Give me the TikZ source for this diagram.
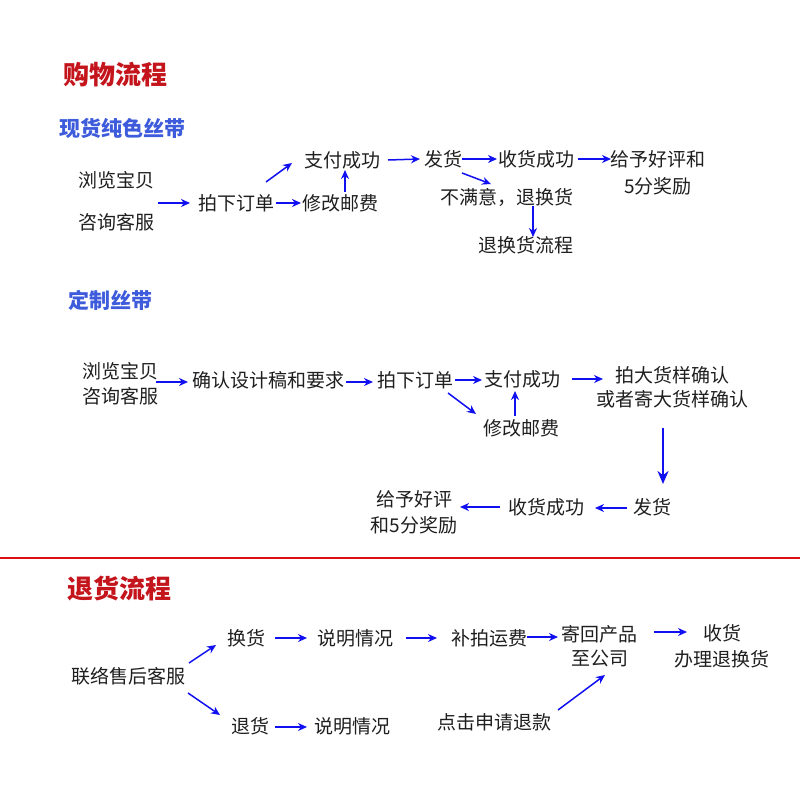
\documentclass[tikz,border=0pt]{standalone}
\usepackage{fontspec}
\setmainfont{Noto Sans CJK SC}
\newfontfamily\cjk{Noto Sans CJK SC}
\usetikzlibrary{calc,arrows.meta}
\definecolor{titlered}{HTML}{C4141C}
\definecolor{titleblue}{HTML}{3D5BDB}
\definecolor{arrowblue}{HTML}{1010F0}
\definecolor{linered}{HTML}{DD1111}
\tikzset{
  txt/.style={inner sep=0pt, font=\cjk\fontsize{19}{24}\selectfont, text=black!88, align=center},
  redtitle/.style={inner sep=0pt, font=\cjk\bfseries\fontsize{26}{30}\selectfont, text=titlered},
  bluetitle/.style={inner sep=0pt, font=\cjk\bfseries\fontsize{21}{26}\selectfont, text=titleblue},
  arr/.style={draw=arrowblue, line width=1.5pt, -{Stealth[length=9pt,width=8pt]}},
  bigarr/.style={draw=arrowblue, line width=2.6pt, -{Stealth[length=13pt,width=11pt]}}
}
\begin{document}
\begin{tikzpicture}[x=1pt,y=-1pt]
\useasboundingbox[fill=white] (0,0) rectangle (800,800);

% titles
\node[redtitle] (t1) at (115,75) {购物流程};
\node[bluetitle] (t2) at (122.5,128) {现货纯色丝带};
\node[bluetitle] (t3) at (110,300) {定制丝带};
\node[redtitle] (t4) at (119,589) {退货流程};

% separator
\draw[linered, line width=2pt] (0,558) -- (800,558);

% ---------- section 1 ----------
\node[txt, font=\cjk\fontsize{19}{42}\selectfont] (s1a) at (116,201) {浏览宝贝\\咨询客服};
\node[txt] (s1b) at (236,203) {拍下订单};
\node[txt] (s1c) at (340,203) {修改邮费};
\node[txt] (s1d) at (342,160) {支付成功};
\node[txt] (s1e) at (443,159) {发货};
\node[txt] (s1f) at (536,159) {收货成功};
\node[txt, font=\cjk\fontsize{19}{27}\selectfont] (s1g) at (658,172.5) {给予好评和\\5分奖励};
\node[txt] (s1h) at (507,197) {不满意，退换货};
\node[txt] (s1i) at (526,245) {退换货流程};

\draw[arr] ($(s1a)+(42,2)$) -- ($(s1b)+(-46,0)$);
\draw[arr] ($(s1b)+(40,0)$) -- ($(s1c)+(-39,0)$);
\draw[arr] ($(s1b)+(30,-21)$) -- ($(s1d)+(-50,3)$);
\draw[arr] ($(s1c)+(5,-11)$) -- ($(s1d)+(3,10)$);
\draw[arr] ($(s1d)+(46,0)$) -- ($(s1e)+(-23,0)$);
\draw[arr] ($(s1e)+(19,0)$) -- ($(s1f)+(-39,0)$);
\draw[arr] ($(s1f)+(42,0)$) -- ($(s1g)+(-47,-13.5)$);
\draw[arr] ($(s1e)+(19,14)$) -- ($(s1h)+(-16,-13)$);
\draw[arr] ($(s1h)+(26,9)$) -- ($(s1i)+(7,-8)$);

% ---------- section 2 ----------
\node[txt, font=\cjk\fontsize{19}{25}\selectfont] (s2a) at (120,383.5) {浏览宝贝\\咨询客服};
\node[txt] (s2b) at (268.5,380) {确认设计稿和要求};
\node[txt] (s2c) at (415,380) {拍下订单};
\node[txt] (s2d) at (522,379) {支付成功};
\node[txt] (s2e) at (521,428) {修改邮费};
\node[txt, font=\cjk\fontsize{19}{24}\selectfont] (s2f) at (672.5,387) {拍大货样确认\\或者寄大货样确认};
\node[txt] (s2g) at (652.5,507) {发货};
\node[txt] (s2h) at (546.5,507) {收货成功};
\node[txt, font=\cjk\fontsize{19}{26}\selectfont] (s2i) at (414,512) {给予好评\\和5分奖励};

\draw[arr] ($(s2a)+(36,-1.5)$) -- ($(s2b)+(-80.5,2)$);
\draw[arr] ($(s2b)+(77,2)$) -- ($(s2c)+(-42,2)$);
\draw[arr] ($(s2c)+(40,0)$) -- ($(s2d)+(-40,1)$);
\draw[arr] ($(s2c)+(33,13)$) -- ($(s2e)+(-45,-14)$);
\draw[arr] ($(s2e)+(-6,-12)$) -- ($(s2d)+(-7,12)$);
\draw[arr] ($(s2d)+(50,0)$) -- ($(s2f)+(-69.5,-8)$);
\draw[bigarr] ($(s2f)+(-9.5,41)$) -- ($(s2g)+(10.5,-23)$);
\draw[arr] ($(s2g)+(-25.5,1)$) -- ($(s2h)+(48.5,1)$);
\draw[arr] ($(s2h)+(-46.5,0)$) -- ($(s2i)+(46,-5)$);

% ---------- section 3 ----------
\node[txt] (s3a) at (128,676) {联络售后客服};
\node[txt] (s3b) at (246.5,638) {换货};
\node[txt] (s3c) at (355.5,638) {说明情况};
\node[txt] (s3d) at (489.5,638) {补拍运费};
\node[txt, font=\cjk\fontsize{19}{24}\selectfont] (s3e) at (599.5,646) {寄回产品\\至公司};
\node[txt, font=\cjk\fontsize{19}{26}\selectfont] (s3f) at (722,646) {收货\\办理退换货};
\node[txt] (s3g) at (250,726) {退货};
\node[txt] (s3h) at (352.5,726) {说明情况};
\node[txt] (s3i) at (494.5,722) {点击申请退款};

\draw[arr] ($(s3a)+(61,-13)$) -- ($(s3b)+(-30.5,7)$);
\draw[arr] ($(s3a)+(60,17)$) -- ($(s3g)+(-30,-11)$);
\draw[arr] ($(s3b)+(28.5,0)$) -- ($(s3c)+(-48.5,0)$);
\draw[arr] ($(s3c)+(50.5,0)$) -- ($(s3d)+(-52.5,0)$);
\draw[arr] ($(s3d)+(37.5,-1)$) -- ($(s3e)+(-41.5,-9)$);
\draw[arr] ($(s3e)+(54.5,-14)$) -- ($(s3f)+(-35,-14)$);
\draw[arr] ($(s3g)+(25,1)$) -- ($(s3h)+(-45.5,1)$);
\draw[arr] ($(s3i)+(63.5,-12)$) -- ($(s3e)+(5.5,29)$);
\end{tikzpicture}
\end{document}
